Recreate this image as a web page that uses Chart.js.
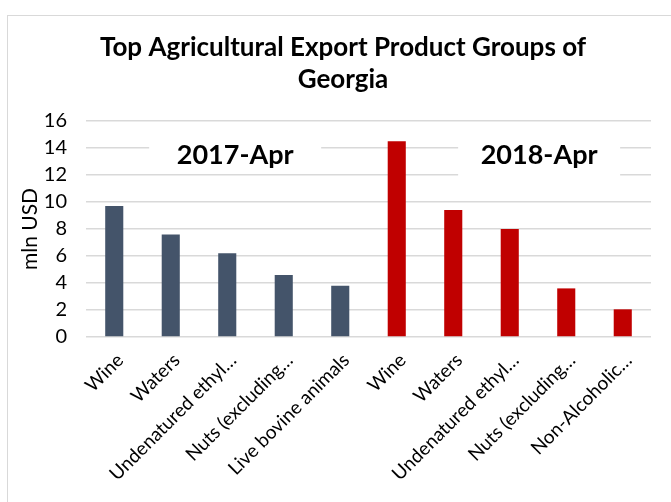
<!DOCTYPE html>
<html>
<head>
<meta charset="utf-8">
<script src="https://cdn.jsdelivr.net/npm/chart.js@4/dist/chart.umd.min.js"></script>
<style>
  html, body { margin: 0; padding: 0; background: #fff; }
  #frame { position: absolute; left: 7px; top: 15px; width: 700px; height: 520px; border: 1px solid #d9d9d9; }
  #wrap { position: absolute; left: 0; top: 0; width: 671px; height: 502px; }
</style>
</head>
<body>
<div id="frame"></div>
<div id="wrap"><canvas id="exportChart" width="671" height="502"></canvas></div>
<script>
const chartTitle = ['Top Agricultural Export Product Groups of', 'Georgia'];
const periods = ['2017-Apr', '2018-Apr'];
const products2017 = ['Wine', 'Waters', 'Undenatured ethyl…', 'Nuts (excluding…', 'Live bovine animals'];
const products2018 = ['Wine', 'Waters', 'Undenatured ethyl…', 'Nuts (excluding…', 'Non-Alcoholic…'];
const values2017 = [9.7, 7.6, 6.2, 4.6, 3.8];
const values2018 = [14.5, 9.4, 8.0, 3.6, 2.05];
const periodColors = ['#44546a', '#c00000'];
const yTicks = [0, 2, 4, 6, 8, 10, 12, 14, 16];

const FONT = "Lato, 'Open Sans', sans-serif";

const labels = [...products2017, ...products2018];
const values = [...values2017, ...values2018];
const colors = [
  ...values2017.map(() => periodColors[0]),
  ...values2018.map(() => periodColors[1])
];

// two-line bold heading, centred on the framed area
const headingPlugin = {
  id: 'heading',
  afterDraw(chart) {
    const { ctx } = chart;
    const cx = (chart.width + 15) / 2;
    ctx.save();
    ctx.font = "bold 26px " + FONT;
    ctx.fillStyle = '#000';
    ctx.textAlign = 'center';
    ctx.textBaseline = 'middle';
    chartTitle.forEach((line, i) => ctx.fillText(line, cx, 48 + i * 32));
    ctx.restore();
  }
};

// period captions sit in white boxes over the gridlines
const periodLabels = {
  id: 'periodLabels',
  afterDatasetsDraw(chart) {
    const { ctx, scales: { x, y } } = chart;
    const step = x.width / labels.length;
    const spots = [
      { text: periods[0], pos: 2.14, val: 13.45, boxW: 172, boxH: 40 },
      { text: periods[1], pos: 7.52, val: 13.45, boxW: 162, boxH: 60 }
    ];
    ctx.save();
    ctx.font = "bold 27px " + FONT;
    ctx.textAlign = 'center';
    ctx.textBaseline = 'middle';
    spots.forEach(s => {
      const cx = x.left + (s.pos + 0.5) * step;
      const cy = y.getPixelForValue(s.val);
      ctx.fillStyle = '#fff';
      ctx.fillRect(cx - s.boxW / 2, cy - 22, s.boxW, s.boxH);
      ctx.fillStyle = '#000';
      ctx.fillText(s.text, cx, cy);
    });
    ctx.restore();
  }
};

new Chart(document.getElementById('exportChart'), {
  type: 'bar',
  data: {
    labels: labels,
    datasets: [{
      data: values,
      backgroundColor: colors,
      categoryPercentage: 1,
      barPercentage: 0.32
    }]
  },
  options: {
    responsive: false,
    animation: false,
    layout: { padding: { left: 0, right: 20, top: 121, bottom: 0 } },
    plugins: {
      legend: { display: false },
      tooltip: { enabled: false },
      title: { display: false }
    },
    scales: {
      x: {
        grid: { display: false },
        border: { display: false },
        ticks: {
          color: '#000',
          font: { family: FONT, size: 19 },
          maxRotation: 45,
          minRotation: 45,
          autoSkip: false,
          labelOffset: 6,
          padding: 4
        },
        afterFit(scale) { scale.height = 165; }
      },
      y: {
        min: 0,
        max: 16,
        afterBuildTicks(scale) { scale.ticks = yTicks.map(v => ({ value: v })); },
        grid: { color: '#d9d9d9', lineWidth: 1.5, drawTicks: false },
        border: { display: false },
        ticks: {
          color: '#000',
          font: { family: FONT, size: 20 },
          padding: 19
        },
        title: {
          display: true,
          text: 'mln USD',
          color: '#000',
          font: { family: FONT, size: 21 },
          padding: { top: 18, bottom: 0 }
        },
        afterFit(scale) { scale.width = 86; }
      }
    }
  },
  plugins: [periodLabels, headingPlugin]
});
</script>
</body>
</html>
